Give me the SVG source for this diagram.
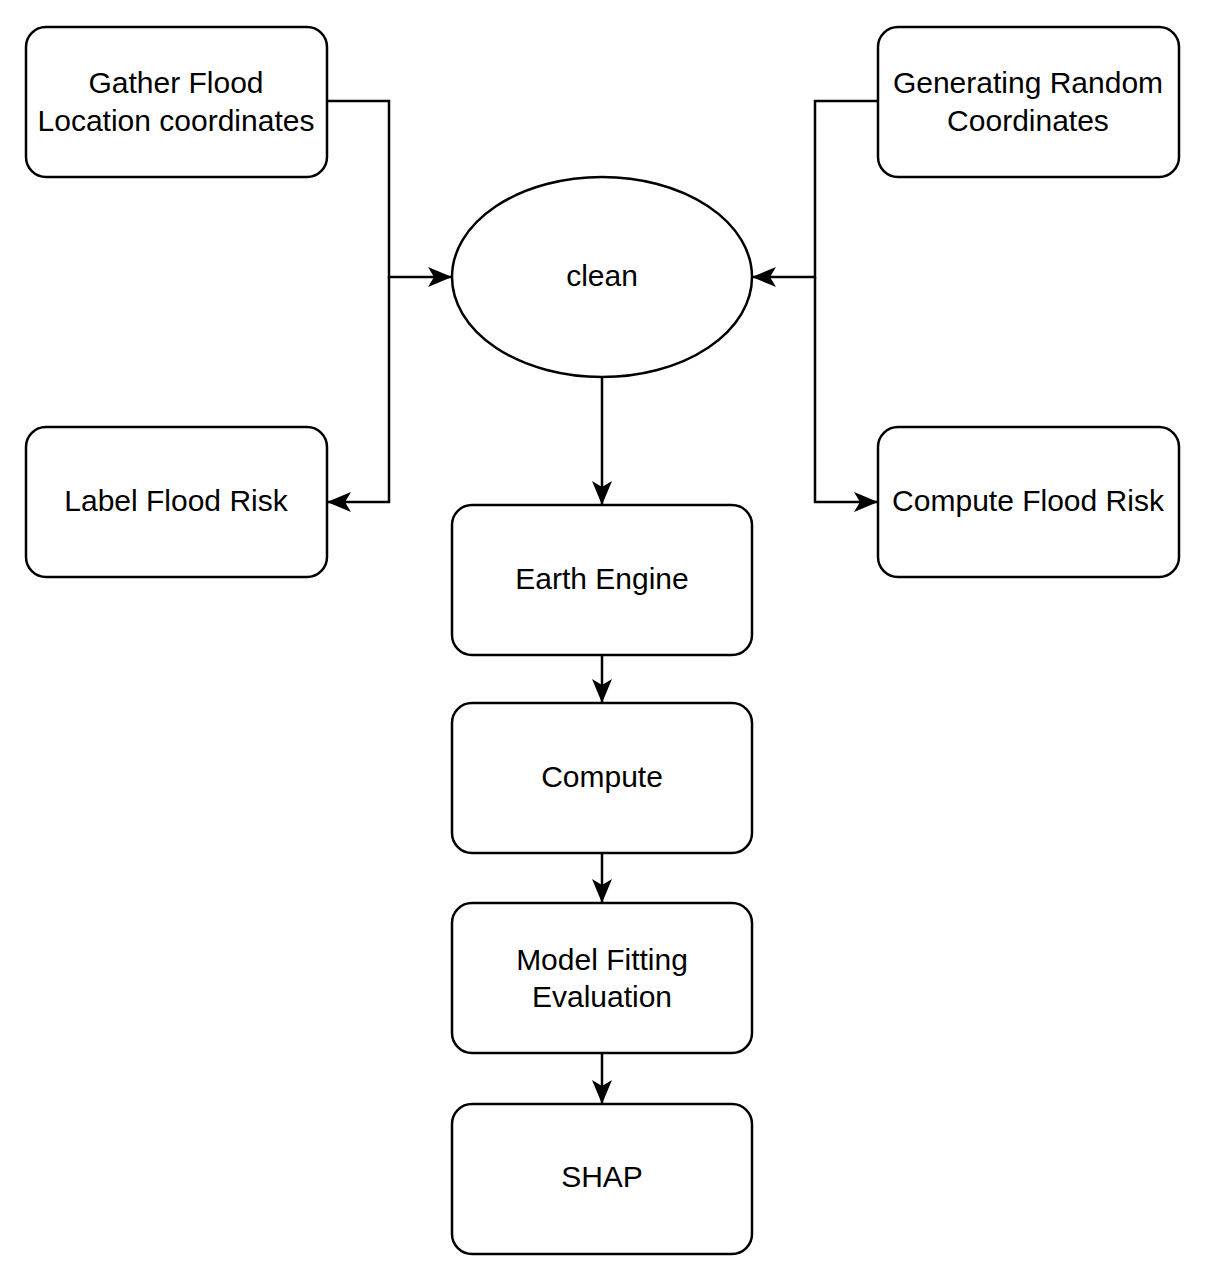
<svg xmlns="http://www.w3.org/2000/svg" width="1205" height="1280" viewBox="0 0 1205 1280">
<style>
.n{fill:#fff;stroke:#000;stroke-width:2.5}
.t{font-family:"Liberation Sans",Arial,sans-serif;font-size:30px;fill:#000;text-anchor:middle;dominant-baseline:central}
.c{fill:none;stroke:#000;stroke-width:2.5}
</style>
<defs>
<marker id="a" viewBox="0 0 24 20" refX="23" refY="10" markerWidth="24" markerHeight="20" markerUnits="userSpaceOnUse" orient="auto">
<path d="M0,0 L24,10 L0,20 L6,10 Z" fill="#000"/>
</marker>
</defs>
<rect width="1205" height="1280" fill="#fff"/>
<g id="connectors">
<polyline class="c" points="327,101 389,101 389,277 451,277" marker-end="url(#a)"/>
<polyline class="c" points="389,277 389,502 328,502" marker-end="url(#a)"/>
<polyline class="c" points="878,101 815,101 815,277 753,277" marker-end="url(#a)"/>
<polyline class="c" points="815,277 815,502 877,502" marker-end="url(#a)"/>
<line class="c" x1="602" y1="377" x2="602" y2="504" marker-end="url(#a)"/>
<line class="c" x1="602" y1="655" x2="602" y2="702" marker-end="url(#a)"/>
<line class="c" x1="602" y1="853" x2="602" y2="902" marker-end="url(#a)"/>
<line class="c" x1="602" y1="1053" x2="602" y2="1103" marker-end="url(#a)"/>
</g>
<g id="gather"><rect class="n" x="26" y="27" width="301" height="150" rx="20"/><text class="t" x="176" y="82">Gather Flood</text><text class="t" x="176" y="120">Location coordinates</text></g>
<g id="label"><rect class="n" x="26" y="427" width="301" height="150" rx="20"/><text class="t" x="176" y="500">Label Flood Risk</text></g>
<g id="generating"><rect class="n" x="878" y="27" width="301" height="150" rx="20"/><text class="t" x="1028" y="82">Generating Random</text><text class="t" x="1028" y="120">Coordinates</text></g>
<g id="computeflood"><rect class="n" x="878" y="427" width="301" height="150" rx="20"/><text class="t" x="1028" y="500">Compute Flood Risk</text></g>
<g id="clean"><ellipse class="n" cx="602" cy="277" rx="150" ry="100"/><text class="t" x="602" y="275">clean</text></g>
<g id="earth"><rect class="n" x="452" y="505" width="300" height="150" rx="20"/><text class="t" x="602" y="578">Earth Engine</text></g>
<g id="compute"><rect class="n" x="452" y="703" width="300" height="150" rx="20"/><text class="t" x="602" y="776">Compute</text></g>
<g id="model"><rect class="n" x="452" y="903" width="300" height="150" rx="20"/><text class="t" x="602" y="959">Model Fitting</text><text class="t" x="602" y="996">Evaluation</text></g>
<g id="shap"><rect class="n" x="452" y="1104" width="300" height="150" rx="20"/><text class="t" x="602" y="1176">SHAP</text></g>
</svg>
